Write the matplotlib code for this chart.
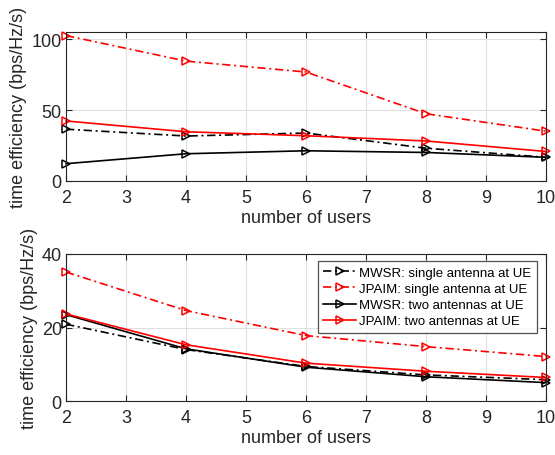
import matplotlib
matplotlib.use("Agg")
import matplotlib.pyplot as plt

plt.rcParams['font.family'] = ['Liberation Sans', 'DejaVu Sans']

users = [2, 4, 6, 8, 10]

# top panel
top_mwsr_single = [36.5, 31.7, 33.8, 23.1, 16.7]
top_jpaim_single = [102.5, 84.5, 76.8, 47.4, 35.1]
top_mwsr_two = [12.2, 19.2, 21.3, 20.1, 16.7]
top_jpaim_two = [42.3, 34.7, 31.9, 28.2, 20.8]

# bottom panel
bot_mwsr_single = [20.9, 14.0, 9.4, 7.1, 5.8]
bot_jpaim_single = [35.1, 24.6, 17.8, 14.8, 12.1]
bot_mwsr_two = [23.5, 14.2, 9.2, 6.6, 5.0]
bot_jpaim_two = [23.7, 15.3, 10.3, 8.1, 6.4]

labels = ["MWSR: single antenna at UE", "JPAIM: single antenna at UE",
          "MWSR: two antennas at UE", "JPAIM: two antennas at UE"]
xticks = [2, 3, 4, 5, 6, 7, 8, 9, 10]
top_yticks = [0, 50, 100]
bot_yticks = [0, 20, 40]

dashdot = (0, (5, 2.2, 1.2, 2.2))
styles = [("black", dashdot), ("red", dashdot), ("black", "-"), ("red", "-")]

fig = plt.figure(figsize=(5.55, 4.56), dpi=100)
ax1 = fig.add_axes([0.1189, 0.6009, 0.8649, 0.3267])
ax2 = fig.add_axes([0.1189, 0.1184, 0.8649, 0.3224])

axis_col = "#262626"

def style(ax, yticks, ylim):
    ax.set_xlim(2, 10)
    ax.set_ylim(*ylim)
    ax.set_xticks(xticks)
    ax.set_yticks(yticks)
    ax.grid(True, color="#e0e0e0", linewidth=0.8)
    ax.set_axisbelow(True)
    for s in ax.spines.values():
        s.set_color(axis_col)
        s.set_linewidth(0.8)
    ax.tick_params(direction="in", top=True, right=True, length=4,
                   width=0.8, color=axis_col, labelcolor=axis_col,
                   labelsize=13)
    ax.tick_params(axis="x", pad=6)
    ax.tick_params(axis="y", pad=3)
    ax.set_xlabel("number of users", fontsize=13, color=axis_col, labelpad=2)
    ax.set_ylabel("time efficiency (bps/Hz/s)", fontsize=13, color=axis_col, labelpad=3)

for ax, series in [(ax1, [top_mwsr_single, top_jpaim_single, top_mwsr_two, top_jpaim_two]),
                   (ax2, [bot_mwsr_single, bot_jpaim_single, bot_mwsr_two, bot_jpaim_two])]:
    for ys, (c, ls), lab in zip(series, styles, labels):
        ax.plot(users, ys, color=c, linestyle=ls, linewidth=1.2, marker=">",
                markersize=6, markerfacecolor="none", markeredgecolor=c,
                markeredgewidth=1.1, label=lab, clip_on=False)

style(ax1, top_yticks, (0, 105))
style(ax2, bot_yticks, (0, 40))

leg = ax2.legend(loc="upper right", bbox_to_anchor=(0.9806, 0.950), fontsize=9.5,
                 frameon=True, fancybox=False, edgecolor=axis_col,
                 handlelength=2.5, handletextpad=0.25, labelspacing=0.3,
                 borderpad=0.4, borderaxespad=0)
leg.get_frame().set_linewidth(0.9)

fig.savefig("out.png", dpi=100)
